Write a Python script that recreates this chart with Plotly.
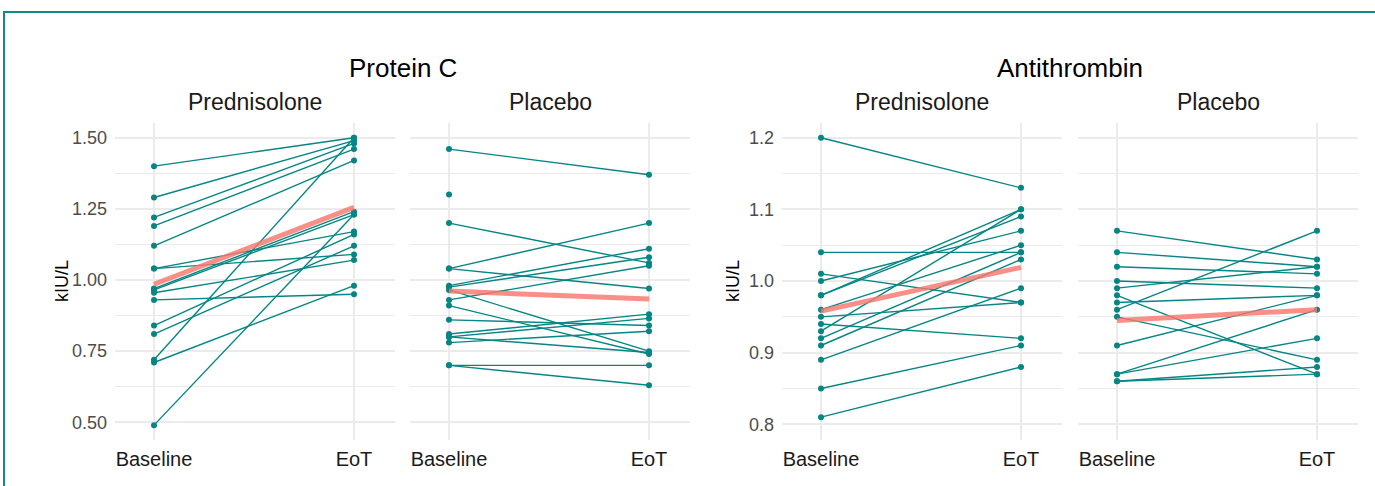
import plotly.graph_objects as go

W, H = 1375, 486
timepoints = ["Baseline", "EoT"]
groups = ["Prednisolone", "Placebo"]
analytes = ["Protein C", "Antithrombin"]

# Protein C - Prednisolone
pc_pred_baseline = [1.40, 1.29, 1.22, 1.19, 1.12, 0.72, 1.04, 1.04, 0.97, 0.965, 0.955, 0.93, 0.84, 0.81, 0.71, 0.49]
pc_pred_eot = [1.50, 1.49, 1.48, 1.46, 1.42, 1.50, 1.17, 1.09, 1.24, 1.23, 1.07, 0.95, 1.16, 1.12, 0.98, 1.23]
pc_pred_mean = [0.985, 1.255]

# Protein C - Placebo
pc_plac_baseline = [1.46, 1.30, 1.20, 1.04, 1.04, 0.98, 0.975, 0.965, 0.93, 0.91, 0.86, 0.81, 0.80, 0.80, 0.78, 0.70, 0.70]
pc_plac_eot = [1.37, None, 1.06, 1.20, 0.97, 1.11, 1.08, 0.75, 1.05, 0.74, 0.84, 0.88, 0.865, 0.745, 0.82, 0.70, 0.63]
pc_plac_mean = [0.961, 0.933]

# Antithrombin - Prednisolone
at_pred_baseline = [1.20, 1.04, 1.01, 1.00, 0.98, 0.98, 0.96, 0.95, 0.94, 0.93, 0.92, 0.91, 0.89, 0.85, 0.81]
at_pred_eot = [1.13, 1.04, 0.97, 1.07, 1.10, 1.09, 1.05, 0.97, 0.92, 1.10, 1.04, 1.03, 0.99, 0.91, 0.88]
at_pred_mean = [0.958, 1.019]

# Antithrombin - Placebo
at_plac_baseline = [1.07, 1.04, 1.02, 1.00, 0.99, 0.98, 0.97, 0.96, 0.95, 0.91, 0.87, 0.87, 0.86, 0.86]
at_plac_eot = [1.03, 1.02, 1.01, 0.99, 1.02, 0.87, 0.98, 1.07, 0.89, 0.98, 0.96, 0.92, 0.88, 0.87]
at_plac_mean = [0.945, 0.960]

panels = [
    (pc_pred_baseline, pc_pred_eot, pc_pred_mean),
    (pc_plac_baseline, pc_plac_eot, pc_plac_mean),
    (at_pred_baseline, at_pred_eot, at_pred_mean),
    (at_plac_baseline, at_plac_eot, at_plac_mean),
]

TEAL = "#068585"
RED = "rgba(248,118,109,0.82)"
GRID = "#EBEBEB"
FONT = "Liberation Sans"

# pixel layout
x_dom_px = [(115, 395), (410, 690), (782, 1062), (1078, 1358)]
y_top, y_bot = 123.3, 439.5
ydom = [1 - y_bot / H, 1 - y_top / H]

fig = go.Figure()
for i, (b, e, m) in enumerate(panels):
    ax = "" if i == 0 else str(i + 1)
    xs, ys = [], []
    mx, my = [], []
    for bv, ev in zip(b, e):
        if ev is None:
            mx.append(timepoints[0]); my.append(bv)
            continue
        xs += [timepoints[0], timepoints[1], None]
        ys += [bv, ev, None]
    fig.add_trace(go.Scatter(x=xs, y=ys, mode="lines+markers", xaxis="x" + ax, yaxis="y" + ax,
                             line=dict(color=TEAL, width=1.4), marker=dict(color=TEAL, size=6),
                             connectgaps=False, showlegend=False, hoverinfo="skip"))
    if mx:
        fig.add_trace(go.Scatter(x=mx, y=my, mode="markers", xaxis="x" + ax, yaxis="y" + ax,
                                 marker=dict(color=TEAL, size=6), showlegend=False))
    fig.add_trace(go.Scatter(x=timepoints, y=m, mode="lines", xaxis="x" + ax, yaxis="y" + ax,
                             line=dict(color=RED, width=5), showlegend=False))

layout = dict(width=W, height=H, margin=dict(l=0, r=0, t=0, b=0),
              plot_bgcolor="white", paper_bgcolor="white",
              font=dict(family=FONT, color="#4D4D4D"))

y_ranges = [[0.4395, 1.5506], [0.4395, 1.5506], [0.7788, 1.2201], [0.7788, 1.2201]]
y_ticks = [[0.5, 0.75, 1.0, 1.25, 1.5], None, [0.8, 0.9, 1.0, 1.1, 1.2], None]
y_ticktext = [["0.50", "0.75", "1.00", "1.25", "1.50"], None, ["0.8", "0.9", "1.0", "1.1", "1.2"], None]
minor_d = [0.125, 0.125, 0.05, 0.05]

for i in range(4):
    ax = "" if i == 0 else str(i + 1)
    x0, x1 = x_dom_px[i]
    layout["xaxis" + ax] = dict(domain=[x0 / W, x1 / W], anchor="y" + ax, type="category",
                                categoryorder="array", categoryarray=timepoints,
                                range=[-0.195, 1.205], showgrid=True, gridcolor=GRID, gridwidth=2,
                                zeroline=False, showline=False, ticks="",
                                tickfont=dict(size=20, color="#1a1a1a", family=FONT), ticklabelstandoff=5)
    yd = dict(domain=ydom, anchor="x" + ax, range=y_ranges[i], showgrid=True, gridcolor=GRID,
              gridwidth=2, zeroline=False, showline=False, ticks="",
              minor=dict(dtick=minor_d[i], tick0=0.5, showgrid=True, gridcolor=GRID, gridwidth=1))
    if y_ticks[i] is not None:
        yd.update(tickmode="array", tickvals=y_ticks[i], ticktext=y_ticktext[i],
                  tickfont=dict(size=18, color="#4D4D4D", family=FONT), ticklabelstandoff=7)
    else:
        yd.update(showticklabels=False, tickmode="array", tickvals=y_ticks[i - 1])
    layout["yaxis" + ax] = yd

def px(xp, yp):
    return xp / W, 1 - yp / H

anns = []
for i, t in enumerate(analytes):
    a = x_dom_px[2 * i][0]; b = x_dom_px[2 * i + 1][1]
    x, y = px((a + b) / 2, 68)
    anns.append(dict(text=t, x=x, y=y, xref="paper", yref="paper", showarrow=False,
                     font=dict(size=26, color="black", family=FONT), xanchor="center", yanchor="middle"))
for i in range(4):
    a, b = x_dom_px[i]
    x, y = px((a + b) / 2, 102)
    anns.append(dict(text=groups[i % 2], x=x, y=y, xref="paper", yref="paper", showarrow=False,
                     font=dict(size=23, color="#1a1a1a", family=FONT), xanchor="center", yanchor="middle"))
for xp in (62, 733):
    x, y = px(xp, 281)
    anns.append(dict(text="kIU/L", x=x, y=y, xref="paper", yref="paper", showarrow=False, textangle=-90,
                     font=dict(size=18, color="black", family=FONT), xanchor="center", yanchor="middle"))
layout["annotations"] = anns

layout["shapes"] = [dict(type="rect", xref="paper", yref="paper", x0=4 / W, x1=1.02,
                         y0=-0.02, y1=1 - 12 / H, line=dict(color="#128A8A", width=2),
                         fillcolor="rgba(0,0,0,0)", layer="above")]

fig.update_layout(**layout)
fig.write_html("out.html")
